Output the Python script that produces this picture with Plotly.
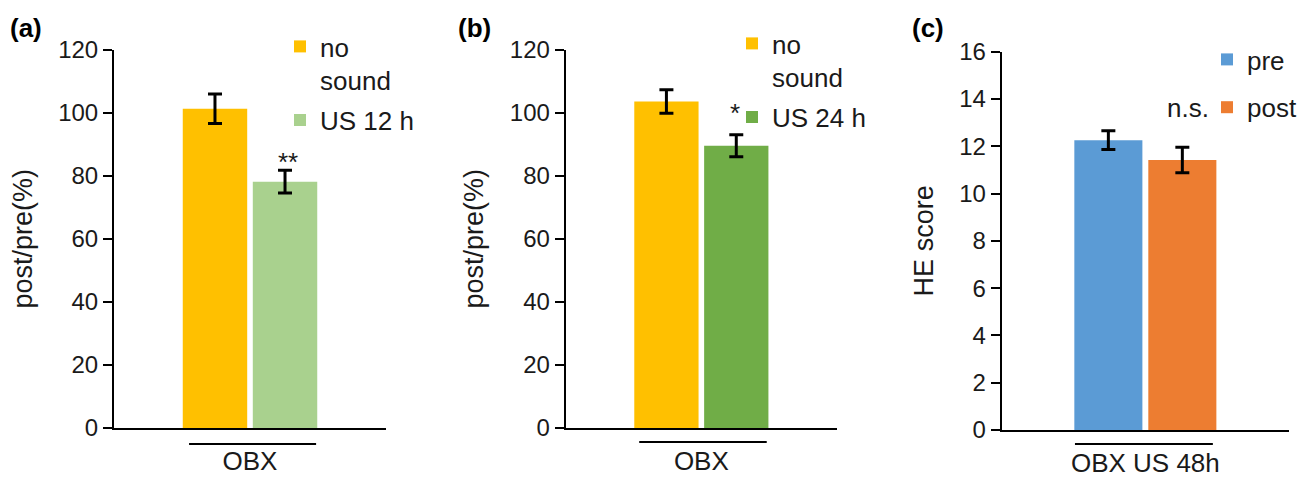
import plotly.graph_objects as go

FONT = "Liberation Sans, Arial, sans-serif"

# Panel (a)
a_cat = ["OBX"]
a_names = ["no<br>sound", "US 12 h"]
a_vals = [101.2, 78.1]
a_err = [4.7, 3.6]
a_colors = ["#FFC000", "#A9D18E"]

# Panel (b)
b_cat = ["OBX"]
b_names = ["no<br>sound", "US 24 h"]
b_vals = [103.5, 89.5]
b_err = [3.7, 3.5]
b_colors = ["#FFC000", "#70AD47"]

# Panel (c)
c_cat = ["OBX US 48h"]
c_names = ["pre", "post"]
c_vals = [12.26, 11.42]
c_err = [0.40, 0.54]
c_colors = ["#5B9BD5", "#ED7D31"]

fig = go.Figure()

panels = [
    ("x", "y", "legend", a_cat, a_names, a_vals, a_err, a_colors),
    ("x2", "y2", "legend2", b_cat, b_names, b_vals, b_err, b_colors),
    ("x3", "y3", "legend3", c_cat, c_names, c_vals, c_err, c_colors),
]
for xa, ya, lg, cat, names, vals, errs, cols in panels:
    for i in range(2):
        fig.add_trace(go.Bar(
            x=cat, y=[vals[i]], name=names[i], marker_color=cols[i],
            marker_line_width=0,
            error_y=dict(type="data", array=[errs[i]], color="black", thickness=3, width=7),
            xaxis=xa, yaxis=ya, legend=lg, legendgroup=f"{lg}{i}",
        ))

TXT = "#1a1a1a"
tick_font = dict(family=FONT, size=24, color=TXT)
big_font = dict(family=FONT, size=26, color=TXT)
title_font = dict(family=FONT, size=27, color=TXT)
common_x = dict(showline=True, linecolor="black", linewidth=2, ticks="", showgrid=False,
                zeroline=False, tickfont=big_font, automargin=False, fixedrange=True,
                ticklabelstandoff=9)
common_y = dict(showline=True, linecolor="black", linewidth=2, ticks="outside", ticklen=9,
                tickwidth=2, tickcolor="black", showgrid=False, zeroline=False,
                tickfont=tick_font, automargin=False, title_font=title_font)

H = 481.0
W = 1309.0
leg_common = dict(xanchor="left", yanchor="top", bgcolor="rgba(0,0,0,0)",
                  valign="top", font=big_font)
fig.update_layout(
    width=1309, height=481,
    margin=dict(l=0, r=0, t=0, b=0),
    paper_bgcolor="white", plot_bgcolor="white",
    barmode="group", bargap=0.485, bargroupgap=0.08,
    showlegend=True,
    font=dict(family=FONT, size=24, color=TXT),
    xaxis=dict(domain=[114/W, 386/W], anchor="y", **common_x),
    xaxis2=dict(domain=[565.7/W, 837/W], anchor="y2", **common_x),
    xaxis3=dict(domain=[1001.7/W, 1289/W], anchor="y3", **common_x),
    yaxis=dict(domain=[1-428/H, 1-49.5/H], anchor="x", range=[0, 120], dtick=20,
               title=dict(text="post/pre(%)", standoff=18), **common_y),
    yaxis2=dict(domain=[1-428/H, 1-49.5/H], anchor="x2", range=[0, 120], dtick=20,
                title=dict(text="post/pre(%)", standoff=18), **common_y),
    yaxis3=dict(domain=[1-430/H, 1-51.7/H], anchor="x3", range=[0, 16], dtick=2,
                title=dict(text="HE score", standoff=18), **common_y),
    legend=dict(x=280/W, y=1-23/H, tracegroupgap=3, **leg_common),
    legend2=dict(x=732/W, y=1-20/H, tracegroupgap=3, **leg_common),
    legend3=dict(x=1207/W, y=1-36/H, tracegroupgap=11, **leg_common),
)

# bracket lines under the bars
brackets = [("x domain", "y domain", 0.276, 0.743, -16/378.5),
            ("x2 domain", "y2 domain", 0.271, 0.741, -14/378.5),
            ("x3 domain", "y3 domain", 0.255, 0.735, -14/378.3)]
for xr, yr, x0, x1, yy in brackets:
    fig.add_shape(type="line", xref=xr, yref=yr, x0=x0, x1=x1, y0=yy, y1=yy,
                  line=dict(color="black", width=2))

# panel labels
for txt, xp in [("<b>(a)</b>", 8), ("<b>(b)</b>", 456), ("<b>(c)</b>", 910)]:
    fig.add_annotation(text=txt, xref="paper", yref="paper", x=xp/W, y=1-28/H,
                       xanchor="left", yanchor="middle", showarrow=False,
                       font=dict(family=FONT, size=26, color="black"))

# significance marks
fig.add_annotation(text="**", xref="x domain", yref="y", x=0.64, y=79, showarrow=False,
                   yanchor="bottom", font=big_font)
fig.add_annotation(text="*", xref="x2 domain", yref="y2", x=0.624, y=94.5, showarrow=False,
                   yanchor="bottom", font=big_font)
fig.add_annotation(text="n.s.", xref="x3 domain", yref="y3", x=0.648, y=12.9, showarrow=False,
                   yanchor="bottom", font=big_font)

fig.write_html("out.html")
